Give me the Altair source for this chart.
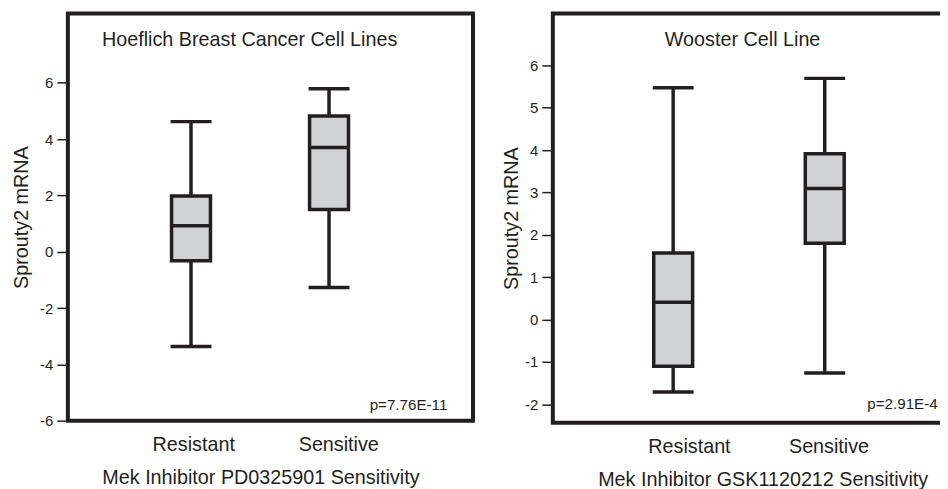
import altair as alt
import pandas as pd

groups = ["Resistant", "Sensitive"]

# Hoeflich breast cancer cell lines (box statistics)
hoef_min = [-3.37, -1.27]
hoef_q1 = [-0.32, 1.50]
hoef_med = [0.92, 3.70]
hoef_q3 = [1.98, 4.82]
hoef_max = [4.62, 5.79]
hoef_yticks = [-6, -4, -2, 0, 2, 4, 6]

# Wooster cell line (box statistics)
woo_min = [-1.71, -1.26]
woo_q1 = [-1.10, 1.80]
woo_med = [0.41, 3.09]
woo_q3 = [1.57, 3.91]
woo_max = [5.47, 5.69]
woo_yticks = [-2, -1, 0, 1, 2, 3, 4, 5, 6]

titles = ["Hoeflich Breast Cancer Cell Lines", "Wooster Cell Line"]
pvalues = ["p=7.76E-11", "p=2.91E-4"]
xtitles = ["Mek Inhibitor PD0325901 Sensitivity", "Mek Inhibitor GSK1120212 Sensitivity"]
ytitle = "Sprouty2 mRNA"

INK = "#231f20"
FILL = "#d1d2d4"
FONT = "Liberation Sans"
BIG = 19.8


def panel(mins, q1, med, q3, maxs, xdom, ydom, yticks, width, height,
          title_text, title_pos, title_align, p_text, p_pos,
          label_vals, xtitle, xtitle_x, ytitle_pad):
    df = pd.DataFrame({
        "group": groups,
        "pos": list(range(1, len(groups) + 1)),
        "lo": mins, "q1": q1, "med": med, "q3": q3, "hi": maxs,
    })
    xs = alt.Scale(domain=xdom, nice=False, zero=False)
    ys = alt.Scale(domain=ydom, nice=False, zero=False)
    label_expr = f"datum.value < 1.5 ? '{groups[0]}' : '{groups[1]}'"
    xaxis = alt.Axis(values=label_vals, labelExpr=label_expr, title=xtitle,
                     domain=False, ticks=False, grid=False, labelPadding=14,
                     labelFontSize=BIG, labelFont=FONT, labelColor=INK,
                     titleFontSize=BIG, titleFont=FONT, titleColor=INK,
                     titleFontWeight="normal", titlePadding=13,
                     titleX=xtitle_x, titleAlign="center", labelFlush=False)
    yaxis = alt.Axis(values=yticks, title=ytitle, domain=False, grid=False,
                     labelExpr="datum.value < 0 ? '-' + abs(datum.value) : '' + datum.value",
                     tickSize=11, tickWidth=1.5, tickColor=INK, labelPadding=4,
                     labelFontSize=15, labelFont=FONT, labelColor=INK,
                     titleFontSize=BIG, titleFont=FONT, titleColor=INK,
                     titleFontWeight="normal", titlePadding=ytitle_pad)

    def X(f):
        return alt.X(f, type="quantitative", scale=xs, axis=xaxis, title=xtitle)

    def Y(f):
        return alt.Y(f, type="quantitative", scale=ys, axis=yaxis, title=ytitle)

    base = alt.Chart(df)
    whisk = base.mark_rule(color=INK, strokeWidth=3.5).encode(
        x=X("pos"), y=Y("lo"), y2="hi:Q")
    box = base.mark_bar(orient="vertical", size=39, fill=FILL, stroke=INK,
                        strokeWidth=3.5).encode(x=X("pos"), y=Y("q1"), y2="q3:Q")
    cap_lo = base.mark_tick(orient="horizontal", size=41, thickness=3.5,
                            color=INK, opacity=1).encode(x=X("pos"), y=Y("lo"))
    cap_hi = base.mark_tick(orient="horizontal", size=41, thickness=3.5,
                            color=INK, opacity=1).encode(x=X("pos"), y=Y("hi"))
    median = base.mark_tick(orient="horizontal", size=39, thickness=3.5,
                            color=INK, opacity=1).encode(x=X("pos"), y=Y("med"))

    tdf = pd.DataFrame({"t": [title_text]})
    title = alt.Chart(tdf).mark_text(align=title_align, baseline="alphabetic",
                                     font=FONT, fontSize=BIG, color=INK).encode(
        x=alt.datum(title_pos[0]), y=alt.datum(title_pos[1]), text="t:N")
    pdf = pd.DataFrame({"t": [p_text]})
    ptext = alt.Chart(pdf).mark_text(align="right", baseline="alphabetic",
                                     font=FONT, fontSize=15.2, color=INK).encode(
        x=alt.datum(p_pos[0]), y=alt.datum(p_pos[1]), text="t:N")

    return alt.layer(whisk, box, cap_lo, cap_hi, median, title, ptext).properties(
        width=width, height=height)


left = panel(hoef_min, hoef_q1, hoef_med, hoef_q3, hoef_max,
             xdom=[0.144, 3.007], ydom=[-6, 8.46], yticks=hoef_yticks,
             width=406, height=408,
             title_text=titles[0], title_pos=(0.355, 7.30), title_align="left",
             p_text=pvalues[0], p_pos=(2.857, -5.61),
             label_vals=[1.016, 2.067], xtitle=xtitles[0], xtitle_x=193,
             ytitle_pad=8)

right = panel(woo_min, woo_q1, woo_med, woo_q3, woo_max,
              xdom=[0.239, 3.004], ydom=[-2.43, 7.22], yticks=woo_yticks,
              width=430, height=410,
              title_text=titles[1], title_pos=(1.458, 6.456), title_align="center",
              p_text=pvalues[1], p_pos=(2.745, -2.12),
              label_vals=[1.104, 2.025], xtitle=xtitles[1], xtitle_x=210.3,
              ytitle_pad=3)

chart = alt.hconcat(left, right, spacing=24).resolve_scale(
    x="independent", y="independent").properties(
    padding={"left": 1, "top": 3, "right": -44, "bottom": 0},
    background="white",
).configure_view(stroke=INK, strokeWidth=4)

chart.save("out.html", embed_options={"renderer": "svg", "actions": False})
